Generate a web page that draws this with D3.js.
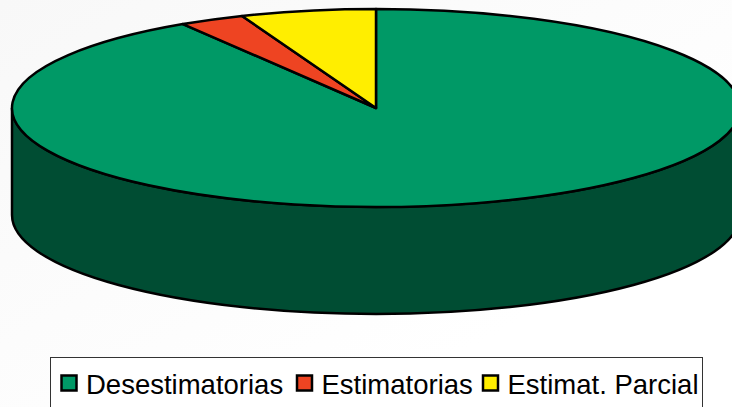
<!DOCTYPE html>
<html>
<head>
<meta charset="utf-8">
<script src="https://cdn.jsdelivr.net/npm/d3@7"></script>
<style>
html, body { margin: 0; padding: 0; overflow: hidden; background: #fff; }
text { font-family: "Liberation Sans", Arial, sans-serif; }
</style>
</head>
<body>
<div id="chart"></div>
<script>
var categories = ["Desestimatorias", "Estimatorias", "Estimat. Parcial"];
var values = [91.1, 2.9, 6.0];
var colors = ["#009966", "#ee4422", "#ffee00"];

var width = 732, height = 407;
var cx = 376, cy = 108, rx = 364, ry = 99, depth = 107;

var svg = d3.select("#chart").append("svg")
    .attr("width", width)
    .attr("height", height)
    .style("display", "block");

// faint grey wash in the top left corner of the slide
var grad = svg.append("defs").append("linearGradient")
    .attr("id", "bg")
    .attr("x1", 0).attr("y1", 0).attr("x2", 1).attr("y2", 1);
grad.append("stop").attr("offset", "0%").attr("stop-color", "#f8f8f8");
grad.append("stop").attr("offset", "75%").attr("stop-color", "#ffffff");
svg.append("rect").attr("width", width).attr("height", height).attr("fill", "url(#bg)");

// side wall of the disc
svg.append("path")
    .attr("d", "M" + (cx - rx) + "," + cy
        + "V" + (cy + depth)
        + "A" + rx + "," + ry + " 0 0 0 " + (cx + rx) + "," + (cy + depth)
        + "V" + cy
        + "A" + rx + "," + ry + " 0 0 1 " + (cx - rx) + "," + cy + "Z")
    .attr("fill", "#004d33")
    .attr("stroke", "#000")
    .attr("stroke-width", 2.5);

// top face, squashed pie
var pie = d3.pie().sort(null).value(function(d) { return d; });
var arc = d3.arc().innerRadius(0).outerRadius(rx);

svg.append("g")
    .attr("transform", "translate(" + cx + "," + cy + ") scale(1," + (ry / rx) + ")")
    .selectAll("path")
    .data(pie(values))
    .enter()
    .append("path")
    .attr("d", arc)
    .attr("fill", function(d, i) { return colors[i]; })
    .attr("stroke", "#000")
    .attr("stroke-width", 2.5)
    .attr("stroke-linejoin", "round")
    .attr("vector-effect", "non-scaling-stroke");

// legend
var legendX = [61.5, 297, 483];
svg.append("rect")
    .attr("x", 50.5).attr("y", 357.5)
    .attr("width", 652).attr("height", 60)
    .attr("fill", "#fff")
    .attr("stroke", "#333")
    .attr("stroke-width", 1);

var item = svg.selectAll(".item")
    .data(categories)
    .enter()
    .append("g")
    .attr("class", "item")
    .attr("transform", function(d, i) { return "translate(" + legendX[i] + ",0)"; });

item.append("rect")
    .attr("x", 0).attr("y", 375.5)
    .attr("width", 15).attr("height", 15)
    .attr("fill", function(d, i) { return colors[i]; })
    .attr("stroke", "#000")
    .attr("stroke-width", 2.5);

item.append("text")
    .attr("x", 24.5)
    .attr("y", 393.5)
    .attr("font-size", 27.5)
    .attr("fill", "#000")
    .text(function(d) { return d; });
</script>
</body>
</html>
